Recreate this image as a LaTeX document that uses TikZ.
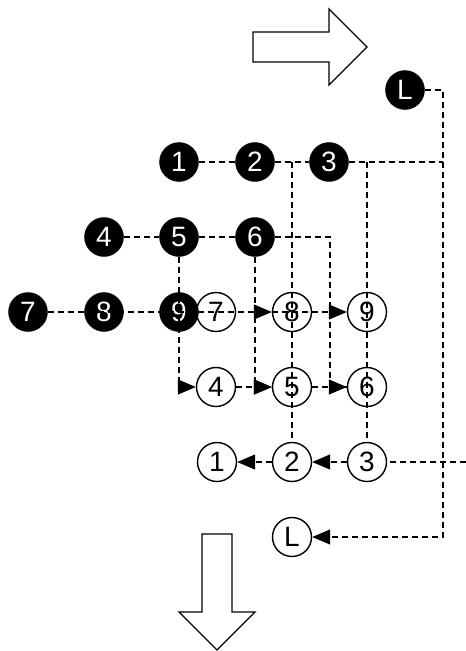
\documentclass[tikz,border=0pt]{standalone}
\usepackage{fontspec}
\setmainfont{Liberation Sans}
\usepackage{tikz}
\usetikzlibrary{arrows.meta,positioning}

\begin{document}
\begin{tikzpicture}[x=1pt,y=-1pt,% pixel grid, y runs downwards
			every node/.style={
				circle,
				inner sep=0pt,
				minimum size=39pt,	% circle diameter
				font=\fontsize{28}{28}\selectfont
			},
			blk/.style={fill=black,draw=black,text=white},
			wht/.style={draw=black,line width=1.4pt},
			dline/.style={draw,line width=1.3pt,dash pattern=on 6pt off 4pt},
			tip/.style={-{Triangle[length=18pt,width=15pt]}}
		]
		\useasboundingbox (0,0) rectangle (466,651);
		% source pattern (black)
		\node[blk](b1) at (179,162){1};
		\node[blk](b2) at (255,162){2};
		\node[blk](b3) at (329,162){3};
		\node[blk](b4) at (104,237){4};
		\node[blk](b5) at (179,237){5};
		\node[blk](b6) at (255,237){6};
		\node[blk](b7) at (28,312){7};
		\node[blk](b8) at (104,312){8};
		\node[blk](b9) at (179,312){9};
		\node[blk](bL) at (405,90){L};
		% result pattern (white)
		\node[wht](w7) at (216,312){7};
		\node[wht](w8) at (292,312){8};
		\node[wht](w9) at (367,312){9};
		\node[wht](w4) at (216,387){4};
		\node[wht](w5) at (292,387){5};
		\node[wht](w6) at (367,387){6};
		\node[wht](w1) at (217,462){1};
		\node[wht](w2) at (292,462){2};
		\node[wht](w3) at (367,462){3};
		\node[wht](wL) at (292,537){L};
		% corners of the connectors
		\coordinate (c2) at (292,162);
		\coordinate (c3) at (367,162);
		\coordinate (cT) at (443,162);
		\coordinate (cB) at (443,537);
		\coordinate (k6) at (330,387);
		\coordinate (cR) at (466,462);
		% connectors
		\path[dline]
		(b1) -- (b2)
		(b2) -- (b3)
		(b3) -- (cT)
		(b4) -- (b5)
		(b5) -- (b6)
		(c2) -- (w2)
		(c3) -- (w3)
		(w5) -- (w6)
		(cR) -- (w3)
		;
		\draw[dline,tip] (b7) -- (w8);
		\draw[dline,tip] (w8.west) -- (w9);
		\draw[dline,tip] (b5) |- (w4);
		\draw[dline,tip] (b6) |- (w5);
		\draw[dline,tip] (w4) -- (w5);
		\draw[dline,tip] (b6) -| (k6) -- (w6);
		\draw[dline,tip] (w3) -- (w2);
		\draw[dline,tip] (w2) -- (w1);
		\draw[dline,tip] (bL) -| (cB) -- (wL);
		% big hollow arrows
		\draw[line width=1.3pt] (253,32) -- (329,32) -- (329,9) -- (367,47) -- (329,85) -- (329,62) -- (253,62) -- cycle;
		\draw[line width=1.3pt] (202,534) -- (232,534) -- (232,612) -- (255,612) -- (217,650) -- (179,612) -- (202,612) -- cycle;
	\end{tikzpicture}
\end{document}
